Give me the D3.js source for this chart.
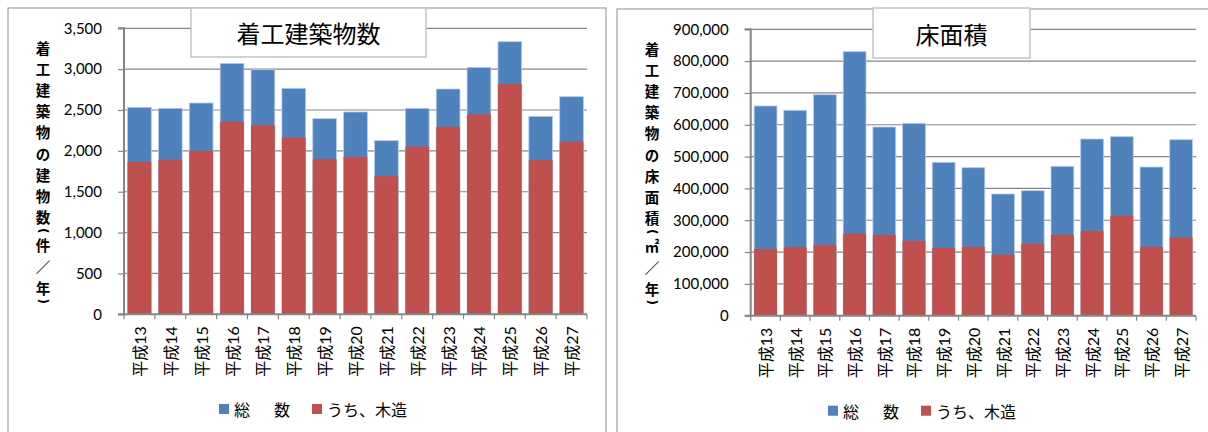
<!DOCTYPE html>
<html><head><meta charset="utf-8">
<script src="https://cdn.jsdelivr.net/npm/d3@7"></script>
<style>
html,body{margin:0;padding:0;background:#fff;}
svg{display:block;}
</style></head>
<body>
<svg id="chart" width="1208" height="432"></svg>
<script>
// ---- data ----
const categories = ["平成13","平成14","平成15","平成16","平成17","平成18","平成19","平成20","平成21","平成22","平成23","平成24","平成25","平成26","平成27"];
const countTotal = [2533,2521,2586,3071,2993,2766,2394,2476,2125,2521,2757,3022,3336,2423,2663];
const countWood  = [1864,1892,1998,2357,2313,2161,1897,1925,1692,2051,2292,2447,2818,1888,2112];
const areaTotal  = [659000,645500,694500,829700,593000,604600,482000,465100,382500,392800,469500,555300,562500,467300,553100];
const areaWood   = [209600,215000,222200,257700,253600,234800,212800,215900,191800,226300,253600,266200,314300,215900,245100];
const countTicks = [0,500,1000,1500,2000,2500,3000,3500];
const areaTicks  = [0,100000,200000,300000,400000,500000,600000,700000,800000,900000];
const titles = ["着工建築物数","床面積"];
const yTitles = [
  ["着","工","建","築","物","の","建","物","数","(","件","／","年",")"],
  ["着","工","建","築","物","の","床","面","積","(","㎡","／","年",")"]
];
const legendLabels = ["総\u3000\u2002数","うち、木造"];

const BLUE = "#4F81BD", RED = "#C0504D", GRID = "#868686";
const NUMFONT = "Lato, 'Noto Sans CJK JP', sans-serif";
const JPFONT = "'Noto Sans CJK JP', sans-serif";

const svg = d3.select("#chart");

function drawChart(o){
  const g = svg.append("g");
  // frame
  g.append("rect").attr("x",o.frame[0]).attr("y",o.frame[1]).attr("width",o.frame[2]).attr("height",o.frame[3])
    .attr("fill","#fff").attr("stroke","#8e8e8e").attr("stroke-width",1);

  const x = d3.scaleBand().domain(categories).range([o.x0,o.x1]).paddingInner(0.2308).paddingOuter(0.1154);
  const y = d3.scaleLinear().domain([0,o.max]).range([o.y0,o.y1]);

  // gridlines
  g.append("g").selectAll("line").data(o.ticks.filter(d=>d>0)).join("line")
    .attr("x1",o.x0).attr("x2",o.x1).attr("y1",d=>y(d)).attr("y2",d=>y(d))
    .attr("stroke",GRID).attr("stroke-width",1.2);

  // bars: total behind, wood in front
  g.append("g").selectAll("rect").data(o.total).join("rect")
    .attr("x",(d,i)=>x(categories[i])).attr("width",x.bandwidth())
    .attr("y",d=>y(d)).attr("height",d=>o.y0-y(d))
    .attr("fill",BLUE).attr("stroke","#b9cde5").attr("stroke-width",0.8);
  g.append("g").selectAll("rect").data(o.wood).join("rect")
    .attr("x",(d,i)=>x(categories[i])).attr("width",x.bandwidth())
    .attr("y",d=>y(d)).attr("height",d=>o.y0-y(d))
    .attr("fill",RED);

  // y axis
  const ya = g.append("g").attr("transform",`translate(${o.x0},0)`)
    .call(d3.axisLeft(y).tickValues(o.ticks).tickFormat(d3.format(",")).tickSize(6).tickPadding(16));
  ya.select(".domain").attr("stroke",GRID).attr("stroke-width",2).attr("d",`M-6,${o.y0}H0V${o.y1}H-6`);
  ya.selectAll(".tick line").attr("stroke",GRID).attr("stroke-width",1.2);
  ya.selectAll(".tick text").attr("font-family",NUMFONT).attr("font-size",15).attr("fill","#000");

  // x axis line + ticks between categories
  g.append("line").attr("x1",o.x0).attr("x2",o.x1).attr("y1",o.y0).attr("y2",o.y0)
    .attr("stroke",GRID).attr("stroke-width",2);
  g.append("g").selectAll("line").data(d3.range(categories.length+1)).join("line")
    .attr("x1",k=>o.x0+k*x.step()).attr("x2",k=>o.x0+k*x.step())
    .attr("y1",o.y0).attr("y2",o.y0+5).attr("stroke",GRID).attr("stroke-width",1.2);
  // x labels rotated
  g.append("g").selectAll("text").data(categories).join("text")
    .attr("transform",d=>`translate(${x(d)+x.bandwidth()/2},${o.y0+12}) rotate(-90)`)
    .attr("text-anchor","end").attr("dominant-baseline","central")
    .attr("font-family",NUMFONT).attr("font-size",16).attr("fill","#000").text(d=>d);

  // y title (vertical stacked); parentheses rotated like vertical writing
  const step = 21.2, parenH = 7;
  const isParen = c => c==="(" || c===")";
  let cy = o.yTitleTop;
  const pos = o.yTitle.map(c=>{ const h = isParen(c)?parenH:step; const c0 = cy + h/2; cy += h; return c0; });
  g.append("g").selectAll("text").data(o.yTitle).join("text")
    .attr("transform",(d,i)=>`translate(${o.yTitleX},${pos[i]})` + (isParen(d)?" rotate(90)":""))
    .attr("text-anchor","middle").attr("dominant-baseline","central")
    .attr("font-family",d=>isParen(d)?"'DejaVu Sans', sans-serif":JPFONT)
    .attr("font-weight",700).attr("font-size",d=>isParen(d)?12:14.5).attr("fill","#000").text(d=>d);

  // title box
  g.append("rect").attr("x",o.tbox[0]).attr("y",o.tbox[1]).attr("width",o.tbox[2]).attr("height",o.tbox[3])
    .attr("fill","#fff").attr("stroke","#c4c4c4").attr("stroke-width",1.5);
  g.append("text").attr("x",o.tbox[0]+o.tbox[2]/2).attr("y",o.tbox[1]+o.tbox[3]/2)
    .attr("text-anchor","middle").attr("dominant-baseline","central")
    .attr("font-family",JPFONT).attr("font-size",24).attr("fill","#000").text(o.title);

  // legend
  const lg = g.append("g");
  [BLUE,RED].forEach((c,i)=>{
    lg.append("rect").attr("x",o.legX[i]).attr("y",o.legY-5).attr("width",10).attr("height",10).attr("fill",c);
    lg.append("text").attr("x",o.legX[i]+15).attr("y",o.legY).attr("dominant-baseline","central")
      .attr("font-family",JPFONT).attr("font-size",16).attr("fill","#000").text(legendLabels[i]);
  });
}

drawChart({
  frame:[8,8,598,440], x0:124, x1:587, y0:314.3, y1:28.3, max:3500, ticks:countTicks,
  total:countTotal, wood:countWood, yTitle:yTitles[0], yTitleX:43, yTitleTop:36.4,
  tbox:[191,8,235,49], title:titles[0], legX:[219,312], legY:409
});
drawChart({
  frame:[617,9,600,440], x0:750.7, x1:1196, y0:315.7, y1:29.3, max:900000, ticks:areaTicks,
  total:areaTotal, wood:areaWood, yTitle:yTitles[1], yTitleX:652, yTitleTop:37.4,
  tbox:[873,8,157,50], title:titles[1], legX:[828,921], legY:410.7
});
</script>
</body></html>
